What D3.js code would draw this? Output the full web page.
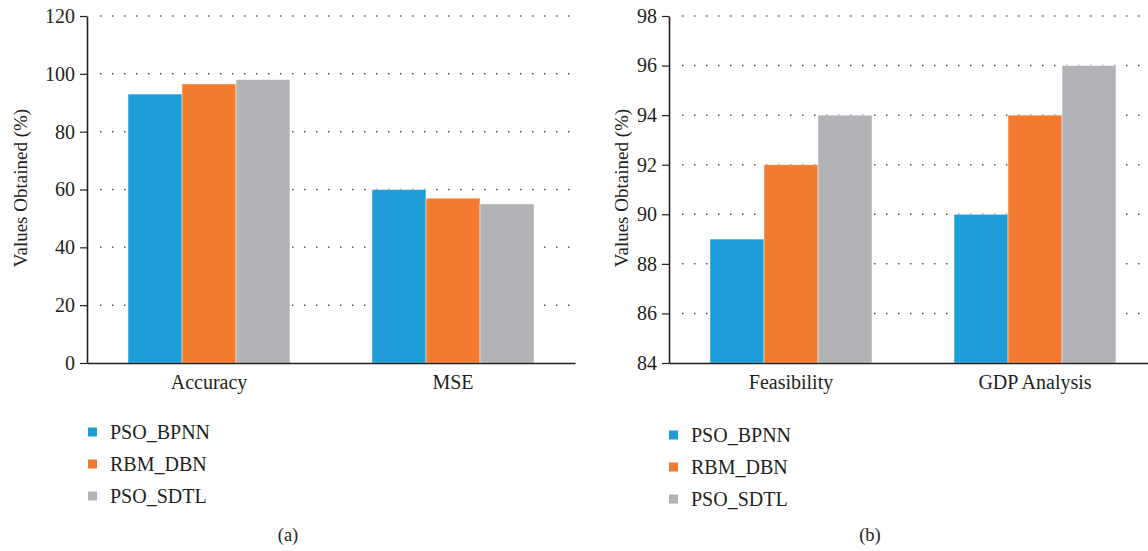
<!DOCTYPE html>
<html>
<head>
<meta charset="utf-8">
<script src="https://cdn.jsdelivr.net/npm/d3@7"></script>
<style>
  body { margin: 0; background: #fff; }
  text { font-family: "Liberation Serif", "DejaVu Serif", serif; fill: #231f20; }
</style>
</head>
<body>
<div id="chart"></div>
<script>
const seriesNames = ['PSO_BPNN', 'RBM_DBN', 'PSO_SDTL'];
const seriesColors = ['#1e9dd8', '#f37b30', '#b2b3b6'];

const categoriesA = ['Accuracy', 'MSE'];
const valuesA = {
  PSO_BPNN: [93, 60],
  RBM_DBN: [96.5, 57],
  PSO_SDTL: [98, 55]
};
const ticksA = [0, 20, 40, 60, 80, 100, 120];

const categoriesB = ['Feasibility', 'GDP Analysis'];
const valuesB = {
  PSO_BPNN: [89, 90],
  RBM_DBN: [92, 94],
  PSO_SDTL: [94, 96]
};
const ticksB = [84, 86, 88, 90, 92, 94, 96, 98];

const W = 1148, H = 551;
const svg = d3.select('#chart').append('svg')
  .attr('width', W)
  .attr('height', H);

function panel(opts) {
  const { left, categories, values, ticks, caption, labelX, legendX, legendY } = opts;
  const top = 16, bottom = 363, plotW = 488;

  const g = svg.append('g').attr('transform', `translate(${left}, 0)`);

  const x0 = d3.scaleBand()
    .domain(categories)
    .range([0, plotW])
    .paddingInner(0.336)
    .paddingOuter(0.168);

  const x1 = d3.scaleBand()
    .domain(seriesNames)
    .range([0, x0.bandwidth()]);

  const y = d3.scaleLinear()
    .domain([ticks[0], ticks[ticks.length - 1]])
    .range([bottom, top]);

  const color = d3.scaleOrdinal(seriesNames, seriesColors);

  // dotted grid
  g.append('g')
    .selectAll('line')
    .data(ticks.slice(1))
    .enter()
    .append('line')
    .attr('x1', 13)
    .attr('x2', plotW)
    .attr('y1', (d) => y(d))
    .attr('y2', (d) => y(d))
    .attr('stroke', '#555')
    .attr('stroke-width', 1.5)
    .attr('stroke-dasharray', '1.5,10.5');

  // bars
  g.append('g')
    .selectAll('g')
    .data(categories)
    .enter()
    .append('g')
    .attr('transform', (d) => `translate(${x0(d)}, 0)`)
    .selectAll('rect')
    .data((d, i) => seriesNames.map((key) => ({ key: key, value: values[key][i] })))
    .enter()
    .append('rect')
    .attr('x', (d) => x1(d.key))
    .attr('y', (d) => y(d.value))
    .attr('width', x1.bandwidth())
    .attr('height', (d) => bottom - y(d.value))
    .attr('fill', (d) => color(d.key))
    .attr('stroke', 'rgba(255,255,255,0.6)')
    .attr('stroke-width', 0.8);

  // y axis
  const yAxis = g.append('g')
    .call(d3.axisLeft(y).tickValues(ticks).tickSize(7).tickSizeOuter(0).tickPadding(5));
  yAxis.select('.domain').attr('stroke', '#231f20').attr('stroke-width', 1.6);
  yAxis.selectAll('.tick line').attr('stroke', '#231f20').attr('stroke-width', 1.2);
  yAxis.selectAll('.tick text')
    .style('font-family', '"Liberation Serif", serif')
    .style('font-size', '20px')
    .attr('fill', '#231f20');

  // x axis
  const xAxis = g.append('g')
    .attr('transform', `translate(0, ${bottom})`)
    .call(d3.axisBottom(x0).tickSize(0).tickPadding(12));
  xAxis.select('.domain').attr('stroke', '#231f20').attr('stroke-width', 1.6);
  xAxis.selectAll('.tick text')
    .style('font-family', '"Liberation Serif", serif')
    .style('font-size', '20px')
    .attr('fill', '#231f20');

  // y axis title
  svg.append('text')
    .attr('transform', `translate(${labelX}, 188) rotate(-90)`)
    .attr('text-anchor', 'middle')
    .attr('dominant-baseline', 'central')
    .style('font-size', '19px')
    .text('Values Obtained (%)');

  // legend
  const legend = svg.append('g')
    .attr('transform', `translate(${legendX}, ${legendY})`)
    .selectAll('g')
    .data(seriesNames)
    .enter()
    .append('g')
    .attr('transform', (d, i) => `translate(0, ${i * 32})`);

  legend.append('rect')
    .attr('x', 0)
    .attr('y', -4.5)
    .attr('width', 9)
    .attr('height', 9)
    .attr('fill', color);

  legend.append('text')
    .attr('x', 22)
    .attr('y', 0)
    .attr('dominant-baseline', 'central')
    .style('font-size', '20px')
    .text((d) => d);

  // caption
  svg.append('text')
    .attr('x', left + plotW / 2 - 43)
    .attr('y', 535)
    .attr('text-anchor', 'middle')
    .attr('dominant-baseline', 'central')
    .style('font-size', '18.5px')
    .text(caption);
}

panel({
  left: 87, categories: categoriesA, values: valuesA, ticks: ticksA,
  caption: '(a)', labelX: 20.5, legendX: 88, legendY: 432
});

panel({
  left: 669, categories: categoriesB, values: valuesB, ticks: ticksB,
  caption: '(b)', labelX: 621, legendX: 669, legendY: 435
});
</script>
</body>
</html>
